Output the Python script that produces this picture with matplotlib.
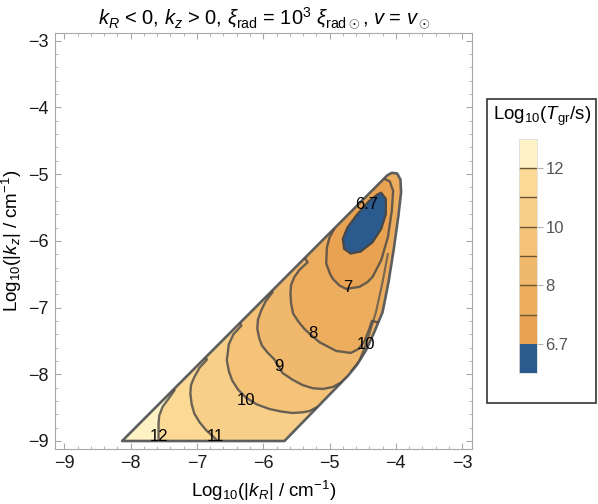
import numpy as np
import matplotlib
matplotlib.use('Agg')
import matplotlib.pyplot as plt
from matplotlib.patches import Polygon, Rectangle
from matplotlib.ticker import MultipleLocator

plt.rcParams['font.family'] = ['Liberation Sans', 'DejaVu Sans']
plt.rcParams['mathtext.fontset'] = 'custom'
plt.rcParams['mathtext.rm'] = 'Liberation Sans'
plt.rcParams['mathtext.it'] = 'Liberation Sans:italic'
plt.rcParams['mathtext.bf'] = 'Liberation Sans:bold'

# colour bands, lowest (< 6.7) to highest (> 12)
cbar_levels = [6.7, 7, 8, 9, 10, 11, 12]
cbar_ticks = [6.7, 8, 10, 12]
band_colors = ['#2b5a8f', '#e8a252', '#ecad5f', '#f0b86c', '#f4c378',
               '#f8cf89', '#fcd995', '#fff2c4']

# outline of the allowed region (log10 kR, log10 kz)
bound_x = [-8.13, -5.68, -4.72, -4.58, -4.45, -4.33, -4.20, -4.11, -4.03,
           -3.96, -3.92, -3.93, -3.98, -4.06, -4.13]
bound_y = [-9.00, -9.00, -8.02, -7.85, -7.64, -7.38, -7.07, -6.62, -6.12,
           -5.62, -5.27, -5.08, -4.99, -4.98, -5.02]

# contour lines (first/last point lies outside the region)
c12_x = [-7.45, -7.34, -7.44, -7.52, -7.57, -7.58, -7.58, -7.58, -7.58]
c12_y = [-8.08, -8.24, -8.38, -8.49, -8.62, -8.74, -8.88, -9.00, -9.30]
c11_x = [-6.95, -6.85, -6.96, -7.04, -7.09, -7.10, -7.08, -7.04, -6.96, -6.86, -6.76, -6.69, -6.66]
c11_y = [-7.65, -7.78, -7.90, -8.04, -8.16, -8.29, -8.45, -8.59, -8.72, -8.84, -8.93, -9.00, -9.30]
c10_x = [-6.43, -6.33, -6.45, -6.52, -6.55, -6.52, -6.47, -6.38, -6.26, -6.10, -5.91,
         -5.72, -5.56, -5.40, -5.30, -5.18, -5.05]
c10_y = [-7.12, -7.27, -7.40, -7.55, -7.79, -7.95, -8.09, -8.23, -8.35, -8.45, -8.52,
         -8.56, -8.58, -8.57, -8.55, -8.49, -8.62]
c9_x = [-5.96, -5.86, -5.96, -6.03, -6.08, -6.09, -6.06, -6.02, -5.93, -5.83, -5.71,
        -5.56, -5.41, -5.25, -5.10, -4.95, -4.82, -4.70, -4.55]
c9_y = [-6.64, -6.77, -6.90, -7.04, -7.18, -7.32, -7.46, -7.57, -7.68, -7.78, -7.98,
        -8.08, -8.16, -8.21, -8.22, -8.19, -8.12, -8.02, -8.12]
c8_x = [-5.43, -5.33, -5.45, -5.53, -5.58, -5.59, -5.58, -5.55, -5.47, -5.38, -5.27,
        -5.15, -4.90, -4.68, -4.56, -4.47, -4.40, -4.36, -4.15]
c8_y = [-6.18, -6.32, -6.43, -6.54, -6.66, -6.79, -6.94, -7.09, -7.21, -7.32, -7.42,
        -7.52, -7.65, -7.68, -7.62, -7.50, -7.32, -7.20, -7.25]
c7_x = [-5.05, -4.93, -5.00, -5.04, -5.05, -4.99, -4.95, -4.85, -4.75, -4.55, -4.43,
        -4.35, -4.22, -4.12, -4.06, -4.04, -4.09, -4.17, -4.25]
c7_y = [-5.70, -5.82, -5.95, -6.10, -6.34, -6.50, -6.57, -6.67, -6.72, -6.69, -6.62,
        -6.54, -6.29, -5.95, -5.55, -5.25, -5.11, -5.07, -4.95]
# contour running along the right edge
edge_x = [-4.67, -4.55, -4.48, -4.40, -4.30, -4.20, -4.12]
edge_y = [-7.95, -7.80, -7.62, -7.40, -7.07, -6.62, -6.20]
# region below 6.7
c67_x = [-4.22, -4.15, -4.15, -4.22, -4.35, -4.53, -4.68, -4.78, -4.80, -4.73, -4.58, -4.40, -4.27]
c67_y = [-5.28, -5.37, -5.60, -5.82, -6.02, -6.16, -6.19, -6.12, -5.97, -5.80, -5.60, -5.40, -5.30]

label_text = ['12', '11', '10', '9', '8', '10', '7', '6.7']
label_x = [-7.57, -6.72, -6.26, -5.77, -5.25, -4.45, -4.72, -4.44]
label_y = [-8.94, -8.94, -8.39, -7.89, -7.39, -7.56, -6.70, -5.45]

contours = [(12, c12_x, c12_y), (11, c11_x, c11_y), (10, c10_x, c10_y),
            (9, c9_x, c9_y), (8, c8_x, c8_y), (7, c7_x, c7_y)]

line_col = '#474747'

fig = plt.figure(figsize=(5.98, 5.04), dpi=100)
ax = fig.add_axes([54.5 / 598, 1 - 449 / 504, (472 - 54.5) / 598, (449 - 32.7) / 504])

boundary = np.column_stack([bound_x, bound_y])
ax.add_patch(Polygon(boundary, closed=True, facecolor=band_colors[-1], edgecolor='none'))
clip = Polygon(boundary, closed=True, transform=ax.transData)

for lev, cx, cy in contours:
    idx = cbar_levels.index(lev)
    pts = list(zip(cx, cy))
    if lev != 7:
        pts += [(-2.0, -9.6), (-2.0, -2.0), (-10.0, -2.0)]
    p = Polygon(pts, closed=True, facecolor=band_colors[idx], edgecolor='none')
    ax.add_patch(p)
    p.set_clip_path(clip)

blue = Polygon(np.column_stack([c67_x, c67_y]), closed=True,
               facecolor=band_colors[0], edgecolor=line_col, lw=1.6)
ax.add_patch(blue)

for lev, cx, cy in contours:
    ln, = ax.plot(cx, cy, color=line_col, lw=1.7, alpha=0.8, solid_joinstyle='round')
    ln.set_clip_path(clip)
ln, = ax.plot(edge_x, edge_y, color=line_col, lw=1.5, alpha=0.7, solid_joinstyle='round')
ln.set_clip_path(clip)

ax.add_patch(Polygon(boundary, closed=True, fill=False, edgecolor='#5e5e5e',
                     lw=1.9, joinstyle='round'))

for t, x, y in zip(label_text, label_x, label_y):
    ax.text(x, y, t, ha='center', va='center', fontsize=12, color='black')

ax.set_xlim(-9.15, -2.85)
ax.set_ylim(-9.12, -2.88)
ax.set_xticks(range(-9, -2))
ax.set_yticks(range(-9, -2))
ax.xaxis.set_minor_locator(MultipleLocator(0.2))
ax.yaxis.set_minor_locator(MultipleLocator(0.2))
ax.tick_params(which='both', direction='in', top=True, right=True, color='#a8a8a8',
               labelsize=13, labelcolor='#1a1a1a')
ax.tick_params(which='major', length=4, width=0.8, pad=4)
ax.tick_params(which='minor', length=2, width=0.6)
for s in ax.spines.values():
    s.set_color('#a8a8a8')
    s.set_linewidth(0.8)

ax.set_xlabel(r'Log$_{10}$(|$k_R$| / cm$^{-1}$)', fontsize=13.5, labelpad=5)
ax.set_ylabel(r'Log$_{10}$(|$k_z$| / cm$^{-1}$)', fontsize=13.5, labelpad=3)
fig.text(264 / 598, 1 - 18 / 504,
         r'$k_R$ < 0, $k_z$ > 0, $\xi_{\rm rad}$ = 10$^3$ $\xi_{\rm rad\odot}$, $v$ = $v_\odot$',
         ha='center', va='center', fontsize=14.5)

# legend box with the colour bar
fig.patches.append(Rectangle((487 / 598, 1 - 403 / 504), 109 / 598, 304 / 504,
                             transform=fig.transFigure, fill=False,
                             edgecolor='#333333', lw=1.2))
fig.text(542 / 598, 1 - 116 / 504, r'Log$_{10}$($T_{\rm gr}$/s)',
         ha='center', va='center', fontsize=13.5)

cax = fig.add_axes([519 / 598, 1 - 373 / 504, 18 / 598, 234 / 504])
n = len(band_colors)
cax.bar(np.zeros(n), np.ones(n), bottom=np.arange(n), width=1.0,
        color=band_colors, edgecolor='none', align='center')
for k in range(2, n):
    cax.axhline(k, color='#6b5530', lw=1.0)
cax.set_xlim(-0.5, 0.5)
cax.set_ylim(0, n)
cax.set_xticks([])
cax.set_yticks([cbar_levels.index(v) + 1 for v in cbar_ticks])
cax.set_yticklabels(['6.7', '8', '10', '12'])
cax.yaxis.tick_right()
cax.tick_params(axis='y', length=4, color='#b0b0b0', labelsize=12,
                labelcolor='#555555', pad=2)
for s in cax.spines.values():
    s.set_color('#dcdcdc')
    s.set_linewidth(0.6)

fig.savefig('out.png', dpi=100)
